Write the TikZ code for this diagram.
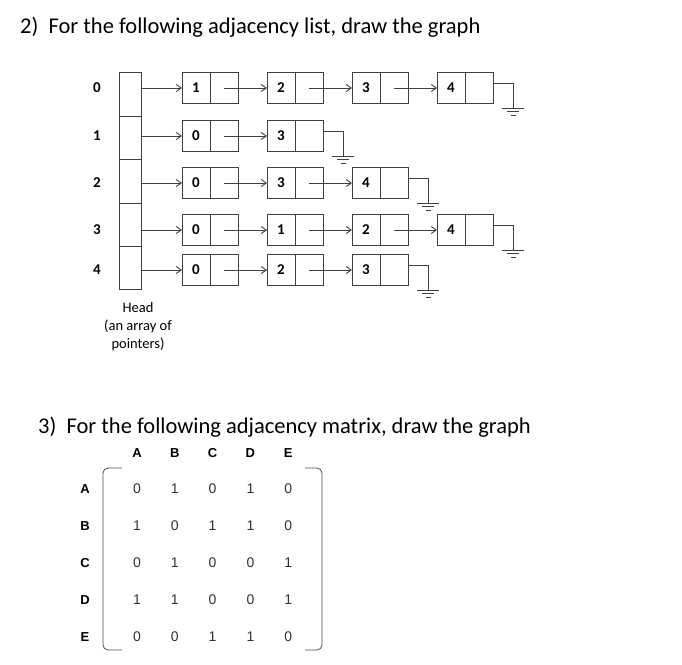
\documentclass[tikz,border=0pt]{standalone}
\usepackage{fontspec}
\setmainfont{Carlito}
\newfontfamily\arialf{Liberation Sans}
\usetikzlibrary{arrows.meta,calc}
\begin{document}
\begin{tikzpicture}[x=1pt,y=-1pt,
  ln/.style={draw=black!75,line width=0.9pt},
  arr/.style={ln,-{Straight Barb[length=5pt,width=7pt]}},
  lbl/.style={font=\fontsize{15}{17}\selectfont\bfseries,inner sep=0pt},
  mh/.style={font=\arialf\fontsize{13}{15}\selectfont\bfseries,inner sep=0pt},
  mv/.style={font=\arialf\fontsize{14}{16}\selectfont,text=black!80,inner sep=0pt}]
\useasboundingbox (0,0) rectangle (682,664);
\node[anchor=west,font=\fontsize{22.5}{26}\selectfont,inner sep=0pt] (t2) at (20,27) {2)\ \ For the following adjacency list, draw the graph};
\node[anchor=west,font=\fontsize{22.5}{26}\selectfont,inner sep=0pt] (t3) at (38,427) {3)\ \ For the following adjacency matrix, draw the graph};
% head array
\draw[ln] (119,72) rectangle (141,289);
\foreach \d in {116,159,203,246} \draw[ln] (119,\d) -- (141,\d);
\def\rowy{{88,136,183,230,270}}
\foreach \i in {0,...,4}{
  \pgfmathsetmacro\yy{\rowy[\i]}
  \node[lbl] (h\i) at (97,\yy) {\i};
  \coordinate (hp\i) at (141,\yy);
}
\newcommand\rowlist[2]{%
  \pgfmathsetmacro\yy{\rowy[#1]}%
  \foreach \v [count=\c from 0] in {#2}{%
    \pgfmathsetmacro\xx{182+85*\c}%
    \draw[ln] (\xx,\yy-15.5) rectangle (\xx+56,\yy+15.5);
    \draw[ln] (\xx+28,\yy-15.5) -- (\xx+28,\yy+15.5);
    \node[lbl] (n#1\c) at (\xx+14,\yy) {\v};
    \coordinate (b#1\c) at (\xx,\yy);
    \coordinate (p#1\c) at (\xx+42,\yy);
    \coordinate (e#1\c) at (\xx+56,\yy-5);
  }%
}
\rowlist{0}{1,2,3,4}
\rowlist{1}{0,3}
\rowlist{2}{0,3,4}
\rowlist{3}{0,1,2,4}
\rowlist{4}{0,2,3}
\foreach \i in {0,...,4} \draw[arr] (hp\i) -- (b\i0);
\foreach \i/\n in {0/3,1/1,2/2,3/3,4/2}{
  \foreach \c in {1,...,\n}{
    \pgfmathtruncatemacro\pc{\c-1}
    \draw[arr] (p\i\pc) -- (b\i\c);
  }
  \draw[ln] (e\i\n) -- ++(20,0) coordinate (g\i) -- ++(0,25);
  \draw[ln] ($(g\i)+(-11,25)$) -- ++(22,0);
  \draw[ln] ($(g\i)+(-6,28.5)$) -- ++(12,0);
  \draw[ln] ($(g\i)+(-2.5,32)$) -- ++(5,0);
}
\node[align=center,font=\fontsize{14.5}{18}\selectfont,inner sep=0pt] (head) at (138,327) {Head\\(an array of\\pointers)};
% matrix
\foreach \l [count=\k from 0] in {A,B,C,D,E}{
  \pgfmathsetmacro\xx{137+37.8*\k}
  \pgfmathsetmacro\yy{489+37*\k}
  \node[mh] (c\l) at (\xx,453) {\l};
  \node[mh] (r\l) at (85,\yy) {\l};
}
\def\mat{{{0,1,0,1,0},{1,0,1,1,0},{0,1,0,0,1},{1,1,0,0,1},{0,0,1,1,0}}}
\foreach \r in {0,...,4}{
  \foreach \c in {0,...,4}{
    \pgfmathtruncatemacro\v{\mat[\r][\c]}
    \node[mv] (m\r\c) at (137+37.8*\c,489+37*\r) {\v};
  }
}
\draw[draw=black!70,line width=0.8pt,rounded corners=5pt] (122,468) -- (103,468) -- (103,650) -- (122,650);
\draw[draw=black!70,line width=0.8pt,rounded corners=5pt] (305,468) -- (322,468) -- (322,650) -- (305,650);
\end{tikzpicture}
\end{document}
